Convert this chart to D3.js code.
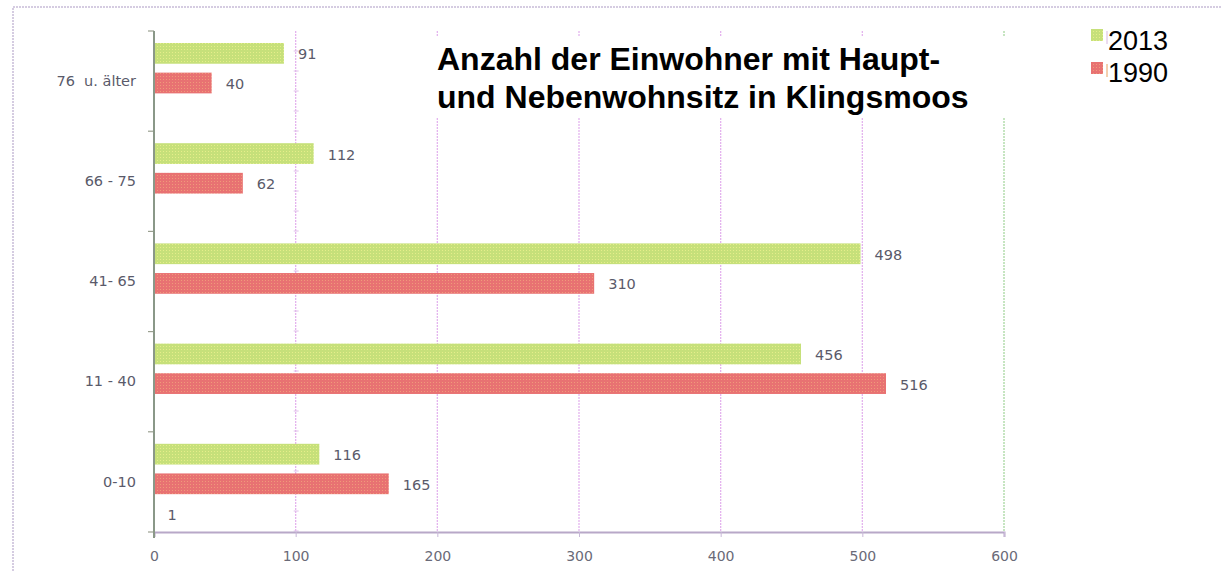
<!DOCTYPE html>
<html><head><meta charset="utf-8">
<script src="https://cdn.jsdelivr.net/npm/d3@7"></script>
<style>body{margin:0;background:#fff}svg{display:block}</style>
</head><body>
<svg id="c" width="1221" height="571"></svg>
<script>
const categories = ["76  u. älter", "66 - 75", "41- 65", "11 - 40", "0-10"];
const values2013 = [91, 112, 498, 456, 116];
const values1990 = [40, 62, 310, 516, 165];
const valuesExtra = [null, null, null, null, 1];
const seriesNames = ["2013", "1990"];
const xTicks = [0, 100, 200, 300, 400, 500, 600];
const titleLines = ["Anzahl der Einwohner mit Haupt-", "und Nebenwohnsitz in Klingsmoos"];

const svg = d3.select("#c");
const defs = svg.append("defs");
function pat(id, base, dot) {
  const p = defs.append("pattern").attr("id", id).attr("width", 3).attr("height", 3).attr("patternUnits", "userSpaceOnUse");
  p.append("rect").attr("width", 3).attr("height", 3).attr("fill", base);
  p.append("rect").attr("x", 1).attr("y", 1).attr("width", 1).attr("height", 1).attr("fill", dot);
}
pat("pg", "#c6e07a", "#e6ee8a");
pat("pr", "#e87272", "#f09a7a");

const m = {l: 154, r: 1004, t: 31, b: 532};
const x = d3.scaleLinear().domain([0, 600]).range([m.l, m.r]);
const y = d3.scaleBand().domain(categories).range([m.t, m.b]);
const inner = d3.scaleBand().domain(["2013", "1990", "extra"]).range([12, 92]).paddingInner(0.3);

const fnt = "DejaVu Sans";
const txtCol = "#5a5a6a";

// outer border
svg.append("path").attr("d", `M13,571 V7 H1221`).attr("fill", "none")
  .attr("stroke", "#c8bcd8").attr("stroke-width", 1.5).attr("stroke-dasharray", "2,1");

// gridlines
svg.append("g").selectAll("line").data(xTicks.slice(1)).join("line")
  .attr("x1", d => x(d)).attr("x2", d => x(d)).attr("y1", m.t).attr("y2", m.b)
  .attr("stroke", d => d === 600 ? "#a8d8a0" : "#e4b4ee").attr("stroke-width", 1.3).attr("stroke-dasharray", "2,1");

// minor ticks on gridline 100
svg.append("g").selectAll("line").data(d3.range(m.t + 20, m.b, 20)).join("line")
  .attr("x1", x(100) - 2).attr("x2", x(100) + 3).attr("y1", d => d).attr("y2", d => d)
  .attr("stroke", "#e0c0ea").attr("stroke-width", 1);

// bottom axis
const xAxis = d3.axisBottom(x).tickValues(xTicks).tickSize(5).tickPadding(14);
const gx = svg.append("g").attr("transform", `translate(0,${m.b})`).call(xAxis);
gx.select(".domain").attr("stroke", "#b8a8c8").attr("stroke-width", 2);
gx.selectAll(".tick line").attr("stroke", "#c8b8d8");
gx.selectAll("text").attr("fill", "#6a6a78").attr("font-family", fnt).attr("font-size", 14);

// left axis
const yAxis = d3.axisLeft(y).tickSize(0).tickPadding(18);
const gy = svg.append("g").attr("transform", `translate(${m.l},0)`).call(yAxis);
gy.select(".domain").remove();
gy.selectAll("text").attr("fill", txtCol).attr("font-family", fnt).attr("font-size", 14.5)
  .style("white-space", "pre");
const bounds = categories.map(c => y(c)).concat([m.b]);
svg.append("g").selectAll("line").data(bounds).join("line")
  .attr("x1", m.l - 6).attr("x2", m.l).attr("y1", d => d).attr("y2", d => d)
  .attr("stroke", "#9aa090").attr("stroke-width", 1.2);
svg.append("line").attr("x1", m.l).attr("x2", m.l).attr("y1", m.t).attr("y2", m.b + 6)
  .attr("stroke", "#8a9888").attr("stroke-width", 2);

// title background
svg.append("rect").attr("x", 428).attr("y", 36).attr("width", 580).attr("height", 81).attr("fill", "#fff");

// bars
const series = [
  {key: "2013", vals: values2013, fill: "url(#pg)"},
  {key: "1990", vals: values1990, fill: "url(#pr)"}
];
series.forEach(s => {
  const g = svg.append("g");
  g.selectAll("rect").data(categories).join("rect")
    .attr("x", x(0) + 1).attr("y", c => y(c) + inner(s.key))
    .attr("width", (c, i) => x(s.vals[i]) - x(0))
    .attr("height", inner.bandwidth()).attr("fill", s.fill);
  g.selectAll("text").data(categories).join("text")
    .attr("x", (c, i) => x(s.vals[i]) + 15)
    .attr("y", c => y(c) + inner(s.key) + inner.bandwidth() / 2 + 1)
    .attr("dy", "0.35em").text((c, i) => s.vals[i])
    .attr("fill", txtCol).attr("font-family", fnt).attr("font-size", 14.5);
});
svg.append("g").selectAll("text").data(categories.filter((c, i) => valuesExtra[i] != null)).join("text")
  .attr("x", c => x(valuesExtra[categories.indexOf(c)]) + 12)
  .attr("y", c => y(c) + inner("extra") + inner.bandwidth() / 2 + 1)
  .attr("dy", "0.35em").text(c => valuesExtra[categories.indexOf(c)])
  .attr("fill", txtCol).attr("font-family", fnt).attr("font-size", 14.5);

// title
svg.append("g").selectAll("text").data(titleLines).join("text")
  .attr("x", 437).attr("y", (d, i) => 70 + i * 38).text(d => d)
  .attr("font-family", "Liberation Sans").attr("font-weight", "bold").attr("font-size", 32).attr("fill", "#000");

// legend
const lg = svg.append("g");
const lfills = ["url(#pg)", "url(#pr)"];
seriesNames.forEach((n, i) => {
  lg.append("rect").attr("x", 1091).attr("y", 29 + i * 33).attr("width", 12).attr("height", 12).attr("fill", lfills[i]);
  lg.append("line").attr("x1", 1107).attr("x2", 1107).attr("y1", 31 + i * 33).attr("y2", 44 + i * 33)
    .attr("stroke", i === 0 ? "#d8b8e0" : "#e8a060").attr("stroke-width", 1);
  lg.append("text").attr("x", 1108).attr("y", 50 + i * 32).text(n)
    .attr("font-family", "Liberation Sans").attr("font-size", 27).attr("fill", "#000");
});
</script>
</body></html>
